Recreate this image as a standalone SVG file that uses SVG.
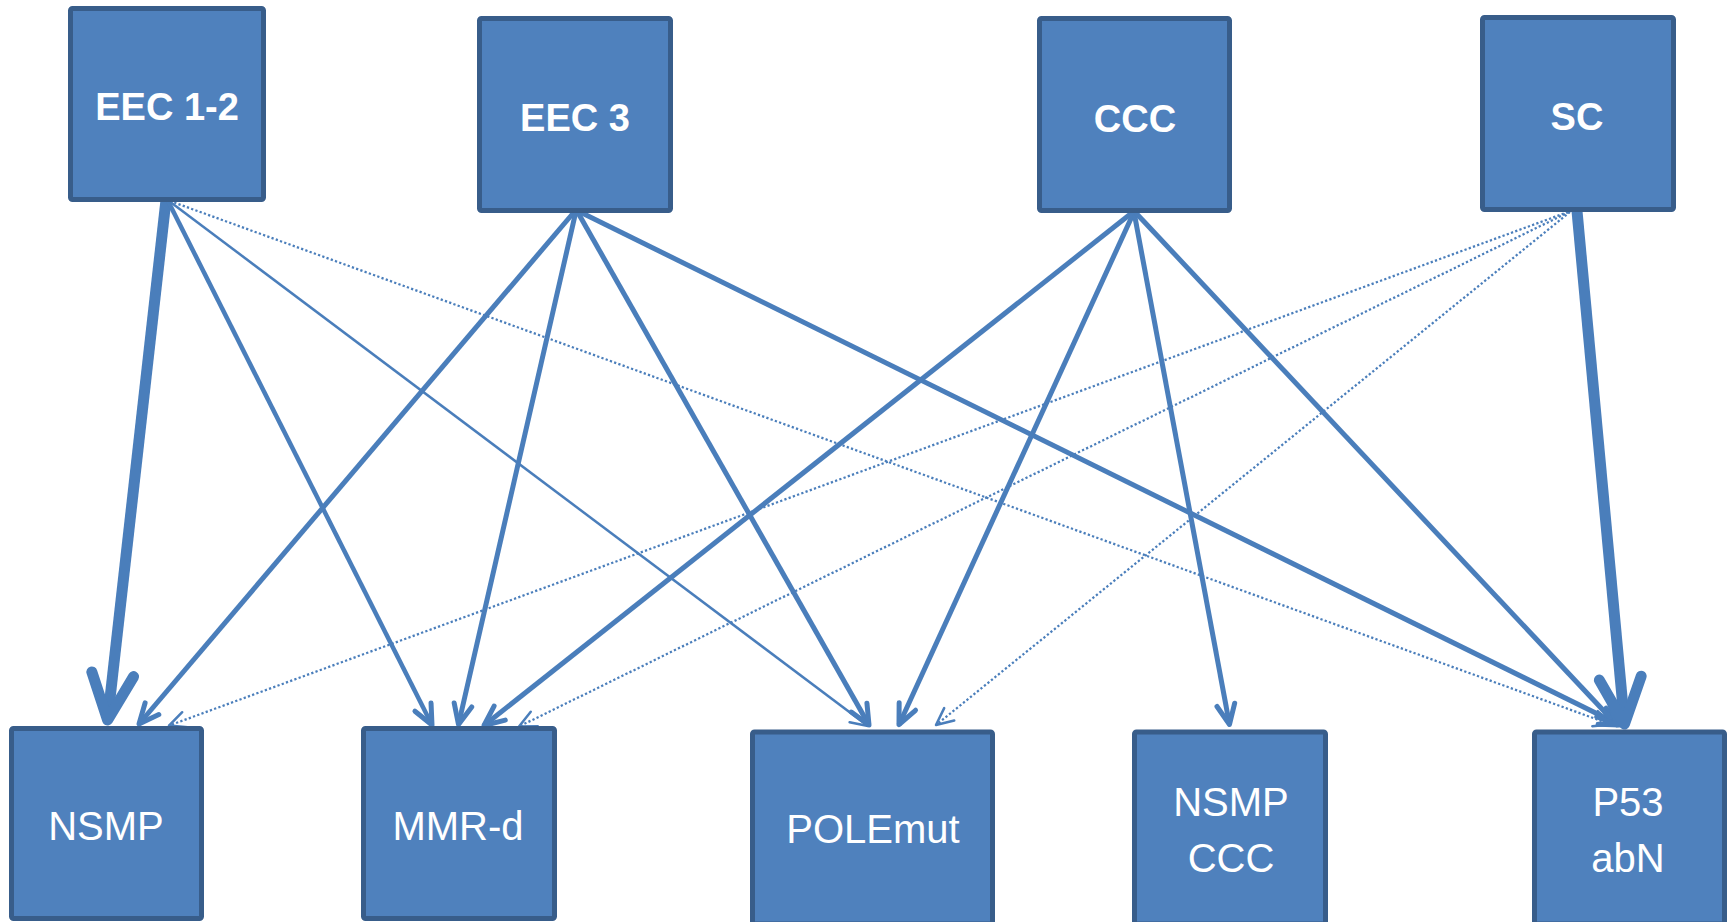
<svg xmlns="http://www.w3.org/2000/svg" width="1734" height="922" viewBox="0 0 1734 922">
<style>
.box{fill:#4f81bd;stroke:#385d8a;stroke-width:5}
.t{font-family:"Liberation Sans",Arial,sans-serif;fill:#fff;text-anchor:middle}
.tb{font-size:38px;font-weight:bold}
.tr{font-size:40px}
.c{fill:none;stroke:#4a7ebb;stroke-linecap:butt}
.big{stroke-width:11;marker-end:url(#aBig)}
.med{stroke-width:5;marker-end:url(#aMed)}
.med2{stroke-width:4.5;marker-end:url(#aMed)}
.thin{stroke-width:2.5;marker-end:url(#aSm)}
.dot{stroke-width:2.25;stroke-dasharray:2.25 2.25;marker-end:url(#aSm)}
</style>
<defs>
<marker id="aBig" markerUnits="userSpaceOnUse" orient="auto" refX="0" refY="0" markerWidth="80" markerHeight="80" viewBox="-60 -40 80 80" overflow="visible">
<path d="M-46,-21 L0,0 L-46,21" fill="none" stroke="#4a7ebb" stroke-width="11" stroke-linecap="round" stroke-linejoin="round"/>
</marker>
<marker id="aMed" markerUnits="userSpaceOnUse" orient="auto" refX="0" refY="0" markerWidth="40" markerHeight="40" viewBox="-30 -20 40 40" overflow="visible">
<path d="M-20,-9 L0,0 L-20,9" fill="none" stroke="#4a7ebb" stroke-width="5" stroke-linecap="round" stroke-linejoin="round"/>
</marker>
<marker id="aSm" markerUnits="userSpaceOnUse" orient="auto" refX="0" refY="0" markerWidth="40" markerHeight="40" viewBox="-30 -20 40 40" overflow="visible">
<path d="M-17,-8 L0,0 L-17,8" fill="none" stroke="#4a7ebb" stroke-width="2.5" stroke-linecap="round" stroke-linejoin="round"/>
</marker>
</defs>
<rect width="1734" height="922" fill="#fff"/>
<g id="connectors">
<line class="c big" x1="166" y1="200" x2="107.6" y2="720"/>
<line class="c med2" x1="168" y1="201" x2="432" y2="725"/>
<line class="c thin" x1="169" y1="201" x2="868" y2="726"/>
<line class="c dot" x1="170" y1="201" x2="1611" y2="724.5"/>
<line class="c med" x1="575" y1="211" x2="139" y2="724"/>
<line class="c med" x1="576" y1="211" x2="458.5" y2="724.5"/>
<line class="c med" x1="577" y1="211" x2="869" y2="725"/>
<line class="c med" x1="578" y1="211" x2="1620" y2="725"/>
<line class="c med" x1="1133" y1="212" x2="484" y2="725.5"/>
<line class="c med" x1="1134" y1="212" x2="899" y2="724.7"/>
<line class="c med" x1="1134" y1="212" x2="1229.5" y2="724.5"/>
<line class="c med" x1="1135" y1="212" x2="1617" y2="725"/>
<line class="c dot" x1="1568" y1="212" x2="169" y2="725.6"/>
<line class="c dot" x1="1569" y1="212" x2="519" y2="726.5"/>
<line class="c dot" x1="1570" y1="212" x2="936" y2="725"/>
<line class="c big" x1="1577" y1="211" x2="1624.5" y2="724"/>
</g>
<g id="eec12"><rect class="box" x="70.5" y="8.5" width="193" height="191" rx="2"/><text class="t tb" x="167" y="120">EEC 1-2</text></g>
<g id="eec3"><rect class="box" x="479.5" y="18.5" width="191" height="192" rx="2"/><text class="t tb" x="575" y="131">EEC 3</text></g>
<g id="ccc"><rect class="box" x="1039.5" y="18.5" width="190" height="192" rx="2"/><text class="t tb" x="1135" y="132">CCC</text></g>
<g id="sc"><rect class="box" x="1482.5" y="17.5" width="191" height="192" rx="2"/><text class="t tb" x="1577" y="130">SC</text></g>
<g id="nsmp"><rect class="box" x="11.5" y="728.5" width="190" height="190" rx="2"/><text class="t tr" x="106" y="840">NSMP</text></g>
<g id="mmrd"><rect class="box" x="363.5" y="728.5" width="191" height="190" rx="2"/><text class="t tr" x="458" y="840">MMR-d</text></g>
<g id="polemut"><rect class="box" x="752.5" y="732" width="240" height="192" rx="2"/><text class="t tr" x="873" y="843">POLEmut</text></g>
<g id="nsmpccc"><rect class="box" x="1134.5" y="732" width="191" height="192" rx="2"/><text class="t tr" x="1231" y="816">NSMP</text><text class="t tr" x="1231" y="872">CCC</text></g>
<g id="p53abn"><rect class="box" x="1534.5" y="732" width="190" height="192" rx="2"/><text class="t tr" x="1628" y="816">P53</text><text class="t tr" x="1628" y="872">abN</text></g>
</svg>
